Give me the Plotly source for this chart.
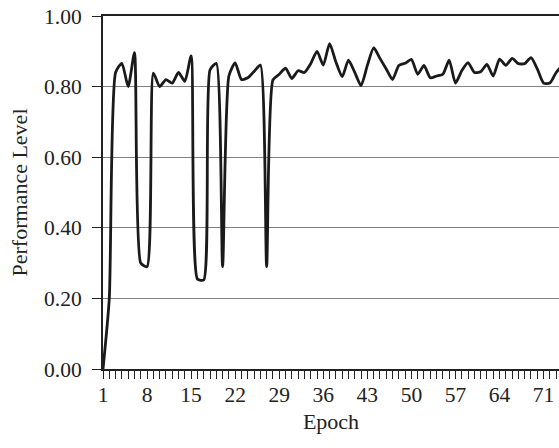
import plotly.graph_objects as go

epochs = list(range(1, 75))
performance = [
    0.00, 0.20, 0.84, 0.866, 0.80, 0.896, 0.30, 0.29, 0.838, 0.80,
    0.82, 0.81, 0.84, 0.815, 0.887, 0.255, 0.252, 0.847, 0.866, 0.29,
    0.83, 0.867, 0.82, 0.825, 0.843, 0.861, 0.29, 0.819, 0.835, 0.852,
    0.823, 0.845, 0.84, 0.865, 0.90, 0.861, 0.922, 0.87, 0.828, 0.875,
    0.84, 0.803, 0.86, 0.91, 0.88, 0.85, 0.82, 0.86, 0.866, 0.877,
    0.835, 0.86, 0.825, 0.83, 0.835, 0.875, 0.81, 0.845, 0.868, 0.84,
    0.842, 0.863, 0.83, 0.878, 0.86, 0.88, 0.865, 0.865, 0.882, 0.85,
    0.81, 0.81, 0.84, 0.86,
]
x_tick_vals = list(range(1, 75, 7))
y_tick_vals = [0.0, 0.2, 0.4, 0.6, 0.8, 1.0]

font = "Liberation Serif, Times New Roman, serif"

fig = go.Figure()
fig.add_trace(go.Scatter(
    x=epochs, y=performance, mode="lines",
    line=dict(color="#1a1a1a", width=2.8, shape="spline", smoothing=0.6),
    showlegend=False, hoverinfo="skip",
))

fig.update_layout(
    width=559, height=448,
    margin=dict(l=103, r=0, t=16, b=79),
    paper_bgcolor="white", plot_bgcolor="white",
    font=dict(family=font, size=21.5, color="#222"),
    xaxis=dict(
        range=[1, 73.45],
        automargin=False,
        tickvals=x_tick_vals,
        ticktext=[str(v) for v in x_tick_vals],
        ticks="outside", ticklen=8, tickcolor="#222", tickwidth=1,
        ticklabelstandoff=-3,
        ticklabeloverflow="allow",
        minor=dict(dtick=1, tick0=1, ticks="outside", ticklen=8, tickcolor="#222", tickwidth=1, showgrid=False),
        showline=True, linecolor="#222", linewidth=2, mirror=True,
        showgrid=False, zeroline=False,
        title=dict(text="Epoch", font=dict(family=font, size=22), standoff=8),
    ),
    yaxis=dict(
        range=[0, 1],
        automargin=False,
        tickvals=y_tick_vals,
        ticktext=[f"{v:.2f}" for v in y_tick_vals],
        ticks="outside", ticklen=9, tickcolor="#222", tickwidth=1,
        ticklabelstandoff=6,
        ticklabeloverflow="allow",
        showline=True, linecolor="#222", linewidth=2,
        showgrid=True, gridcolor="#808080", gridwidth=1,
        zeroline=False,
        title=dict(text="Performance Level", font=dict(family=font, size=22), standoff=10),
    ),
)

fig.write_html(
    "out.html",
    config={"displayModeBar": False},
    post_script="document.body.style.margin='0';document.body.style.overflow='hidden';",
)
